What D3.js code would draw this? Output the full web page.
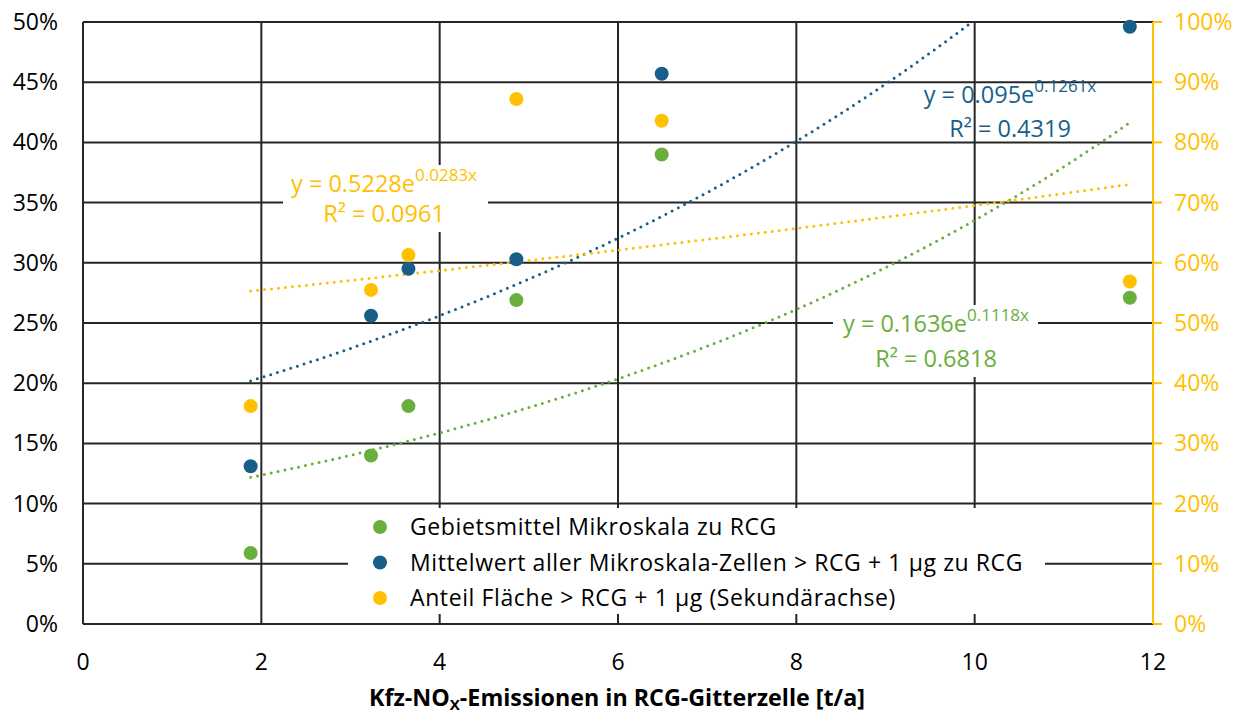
<!DOCTYPE html>
<html lang="de">
<head>
<meta charset="utf-8">
<title>Kfz-NOx</title>
<script src="https://d3js.org/d3.v7.min.js"></script>
<style>
  body { margin: 0; background: #fff; }
  svg text { font-family: "Open Sans", sans-serif; }
</style>
</head>
<body>
<div id="chart"></div>
<script>

// data
var emissions    = [1.88, 3.23, 3.65, 4.86, 6.49, 11.74];
var gebietsmittel = [0.059, 0.140, 0.181, 0.269, 0.390, 0.271];
var mittelwert    = [0.131, 0.256, 0.295, 0.303, 0.457, 0.496];
var anteil        = [0.362, 0.555, 0.613, 0.872, 0.836, 0.569];   // secondary axis

var xTicks = [0, 2, 4, 6, 8, 10, 12];
var yLeftTicks = [0, 0.05, 0.10, 0.15, 0.20, 0.25, 0.30, 0.35, 0.40, 0.45, 0.50];
var yRightTicks = [0, 0.1, 0.2, 0.3, 0.4, 0.5, 0.6, 0.7, 0.8, 0.9, 1.0];

var seriesNames = [
  "Gebietsmittel Mikroskala zu RCG",
  "Mittelwert aller Mikroskala-Zellen > RCG + 1 µg zu RCG",
  "Anteil Fläche > RCG + 1 µg (Sekundärachse)"
];
var trendLabels = [
  { eq: "y = 0.1636e", exp: "0.1118x", r2: "R² = 0.6818" },
  { eq: "y = 0.095e",  exp: "0.1261x", r2: "R² = 0.4319" },
  { eq: "y = 0.5228e", exp: "0.0283x", r2: "R² = 0.0961" }
];

var green = "#6aae3e", blue = "#175f89", gold = "#ffc000";

var width = 1256, height = 716;
var svg = d3.select("#chart").append("svg")
  .attr("width", width).attr("height", height);

var x = d3.scaleLinear().domain([0, 12]).range([83, 1153]);
var yL = d3.scaleLinear().domain([0, 0.5]).range([624, 22]);
var yR = d3.scaleLinear().domain([0, 1]).range([624, 22]);

svg.append("clipPath").attr("id", "plot")
  .append("rect").attr("x", 83).attr("y", 22).attr("width", 1070).attr("height", 602);

// gridlines
var grid = svg.append("g").attr("stroke", "#262626").attr("stroke-width", 2);
grid.selectAll(".h").data(yLeftTicks).enter().append("line")
  .attr("x1", x(0)).attr("x2", x(12))
  .attr("y1", function(d) { return yL(d); }).attr("y2", function(d) { return yL(d); });
grid.selectAll(".v").data(xTicks.slice(0, -1)).enter().append("line")
  .attr("y1", yL(0)).attr("y2", yL(0.5))
  .attr("x1", function(d) { return x(d); }).attr("x2", function(d) { return x(d); });

// white boxes behind legend and two trend labels
svg.append("rect").attr("x", 348).attr("y", 508).attr("width", 697).attr("height", 106).attr("fill", "#fff");
svg.append("rect").attr("x", 283).attr("y", 165).attr("width", 205).attr("height", 67).attr("fill", "#fff");
svg.append("rect").attr("x", 833).attr("y", 305).attr("width", 205).attr("height", 72).attr("fill", "#fff");

// right axis (secondary)
var right = svg.append("g").attr("transform", "translate(" + x(12) + ",0)");
right.append("line").attr("y1", yR(0)).attr("y2", yR(1))
  .attr("stroke", gold).attr("stroke-width", 2);
right.selectAll("line.t").data(yRightTicks).enter().append("line")
  .attr("x1", 0).attr("x2", 9)
  .attr("y1", function(d) { return yR(d); }).attr("y2", function(d) { return yR(d); })
  .attr("stroke", gold).attr("stroke-width", 2);
right.selectAll("text").data(yRightTicks).enter().append("text")
  .attr("x", 21).attr("y", function(d) { return yR(d) + 8; })
  .attr("fill", gold).attr("font-size", 23)
  .text(function(d) { return Math.round(d * 100) + "%"; });

// left tick labels
svg.append("g").selectAll("text").data(yLeftTicks).enter().append("text")
  .attr("x", 58).attr("y", function(d) { return yL(d) + 8; })
  .attr("text-anchor", "end").attr("font-size", 23).attr("fill", "#000")
  .text(function(d) { return Math.round(d * 100) + "%"; });

// bottom tick labels
svg.append("g").selectAll("text").data(xTicks).enter().append("text")
  .attr("x", function(d) { return x(d); }).attr("y", 670)
  .attr("text-anchor", "middle").attr("font-size", 23).attr("fill", "#000")
  .text(function(d) { return d; });

// axis title
var title = svg.append("text")
  .attr("x", 617).attr("y", 706).attr("text-anchor", "middle")
  .attr("font-size", 23).attr("font-weight", "bold")
  .attr("textLength", 496).attr("lengthAdjust", "spacingAndGlyphs");
title.append("tspan").text("Kfz-NO");
title.append("tspan").attr("font-size", 15).attr("dy", 4).text("X");
title.append("tspan").attr("dy", -4).text("-Emissionen in RCG-Gitterzelle  [t/a]");

// exponential trendlines fitted from the points
function expFit(xs, ys) {
  var lx = d3.mean(xs), ly = d3.mean(ys, function(v) { return Math.log(v); });
  var sxy = 0, sxx = 0;
  xs.forEach(function(xi, i) {
    sxy += (xi - lx) * (Math.log(ys[i]) - ly);
    sxx += (xi - lx) * (xi - lx);
  });
  var b = sxy / sxx, a = Math.exp(ly - b * lx);
  return function(v) { return a * Math.exp(b * v); };
}

var series = [
  { values: gebietsmittel, y: yL, color: green },
  { values: mittelwert, y: yL, color: blue },
  { values: anteil, y: yR, color: gold }
];

var xs = d3.range(0, 101).map(function(i) {
  var lo = d3.min(emissions), hi = d3.max(emissions);
  return lo + (hi - lo) * i / 100;
});

var trends = svg.append("g").attr("clip-path", "url(#plot)");
series.forEach(function(s) {
  var f = expFit(emissions, s.values);
  trends.append("path")
    .attr("d", d3.line().x(function(v) { return x(v); }).y(function(v) { return s.y(f(v)); })(xs))
    .attr("fill", "none").attr("stroke", s.color).attr("stroke-width", 3)
    .attr("stroke-linecap", "round").attr("stroke-dasharray", "0 7");
});

// points
series.forEach(function(s) {
  svg.append("g").selectAll("circle").data(s.values).enter().append("circle")
    .attr("cx", function(d, i) { return x(emissions[i]); })
    .attr("cy", function(d) { return s.y(d); })
    .attr("r", 7).attr("fill", s.color);
});

// trendline labels
var labelPos = [[936, 332, 367], [1010, 103, 137], [384, 192, 222]];
trendLabels.forEach(function(l, i) {
  var p = labelPos[i], c = series[i].color;
  var t = svg.append("text").attr("x", p[0]).attr("y", p[1])
    .attr("text-anchor", "middle").attr("font-size", 23.5).attr("fill", c);
  t.append("tspan").text(l.eq);
  t.append("tspan").attr("font-size", 17).attr("dy", -11).text(l.exp);
  svg.append("text").attr("x", p[0]).attr("y", p[2])
    .attr("text-anchor", "middle").attr("font-size", 23.5).attr("fill", c)
    .text(l.r2);
});

// legend
var legend = svg.append("g").selectAll("g").data(seriesNames).enter().append("g")
  .attr("transform", function(d, i) { return "translate(380," + (527 + i * 35.5) + ")"; });
legend.append("circle").attr("r", 7).attr("fill", function(d, i) { return series[i].color; });
legend.append("text").attr("x", 30).attr("y", 8).attr("font-size", 23).attr("fill", "#000")
  .attr("letter-spacing", 0.6)
  .text(function(d) { return d; });

</script>
</body>
</html>
